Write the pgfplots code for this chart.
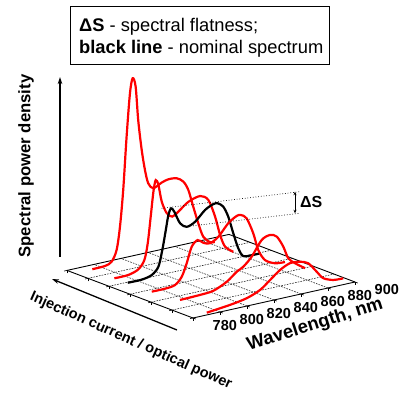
\documentclass[border=0pt]{standalone}
\usepackage{pgfplots}
\pgfplotsset{compat=1.18}
\usepackage{fontspec}
\setmainfont{Liberation Sans}
\usetikzlibrary{arrows.meta}
\tikzset{gridline/.style={line width=0.5pt, dash pattern=on 1.6pt off 1.2pt}}
\begin{document}
\begin{tikzpicture}
\begin{axis}[
  x={(1.35pt,0.30pt)}, y={(-21pt,7.93pt)}, z={(0pt,2pt)},
  xmin=780, xmax=900, ymin=0, ymax=6, zmin=0, zmax=100,
  axis lines=left,
  axis line style={-, line width=0.9pt},
  z axis line style={draw=none},
  xtick={780,800,...,900},
  ytick={0,1,...,6}, yticklabels={},
  ztick=\empty,
  tick style={black, line width=0.6pt},
  tick align=outside,
  major tick length=3pt,
  xticklabel style={font=\bfseries\fontsize{14.5}{14.5}\selectfont, anchor=center, xshift=29pt, yshift=-6pt},
  /pgf/number format/assume math mode=true,
  /pgf/number format/1000 sep={},
  clip=false,
]
\coordinate (O) at (axis cs:780,0,0);
\pgfplotsinvokeforeach{800,820,840,860,880}{\draw[gridline] (axis cs:#1,0,0) -- (axis cs:#1,6,0);}
\pgfplotsinvokeforeach{1,2,3,4,5}{\draw[gridline] (axis cs:780,#1,0) -- (axis cs:900,#1,0);}
\draw[line width=0.9pt] (axis cs:780,6,0) -- (axis cs:900,6,0) -- (axis cs:900,0,0);

% S1 (highest current, back)
\addplot3[red, line width=2.2pt, smooth] coordinates {
(793.3,5.65,0) (802.7,5.65,0.2) (807.6,5.65,1.6) (811.3,5.65,6.9) (813.8,5.65,18.2) (816.2,5.65,36.2) (818.7,5.65,62.4) (821.2,5.65,83.8) (823.2,5.65,91) (825.4,5.65,86.5) (827.3,5.65,69.5) (829.9,5.65,54.1) (832.3,5.65,43.8) (834.7,5.65,36.8) (838.4,5.65,33.7) (844.7,5.65,35.6) (849.6,5.65,36.5) (855.8,5.65,36.1) (860.7,5.65,33.7) (864.4,5.65,29) (868.1,5.65,20) (871.8,5.65,11.2) (875.5,5.65,3.9) (880.4,5.65,0.5) (884,5.65,0)};
% S2
\addplot3[red, line width=2.2pt, smooth] coordinates {
(792.4,4.54,0) (802.7,4.54,0.1) (810.1,4.54,1.8) (814.6,4.54,5.8) (817.1,4.54,13.8) (819.3,4.54,26.8) (821.3,4.54,38.9) (823,4.54,44.5) (825,4.54,41.8) (827.5,4.54,33) (831.2,4.54,26.7) (835.3,4.54,24.4) (839.8,4.54,26.2) (847.2,4.54,30) (855.9,4.54,31.6) (862,4.54,28.7) (867,4.54,19.6) (870.7,4.54,9.9) (874.4,4.54,3.5) (880.5,4.54,0)};
% S3 nominal (black)
\addplot3[black, line width=2.2pt, smooth] coordinates {
(793.1,3.95,0) (803.5,3.95,0) (810.9,3.95,1.2) (815.8,3.95,4.6) (818.7,3.95,12.5) (821.3,3.95,22.1) (823.2,3.95,29.3) (825.2,3.95,32.4) (827.6,3.95,30.3) (831.9,3.95,23.9) (836.8,3.95,21.4) (843,3.95,23) (850.4,3.95,27.8) (856.5,3.95,29.8) (859.8,3.95,29.7) (863.9,3.95,27.4) (867.6,3.95,21.8) (871.3,3.95,13) (875,3.95,4.9) (878.7,3.95,0.5) (885,3.95,0) (891,3.95,0)};
% S4
\addplot3[red, line width=2.2pt, smooth] coordinates {
(793.3,2.82,0) (803.1,2.82,0) (810.5,2.82,0.7) (815.5,2.82,4.1) (819.2,2.82,10.3) (822.9,2.82,18) (827.3,2.82,20.7) (831.5,2.82,18.7) (836.4,2.82,17.7) (842.6,2.82,20) (850,2.82,25.7) (856.2,2.82,28.4) (859.4,2.82,28.4) (863.6,2.82,26.1) (868.5,2.82,17.9) (872.2,2.82,9) (877.2,2.82,3.2) (884.6,2.82,0.5) (892,2.82,0)};
% S5
\addplot3[red, line width=2.2pt, smooth] coordinates {
(796.2,1.66,0) (811,1.66,0.3) (820.9,1.66,0.9) (830.8,1.66,3.9) (838.2,1.66,7.8) (843.1,1.66,9.6) (849.3,1.66,13.7) (856.7,1.66,20.9) (862.9,1.66,22.5) (867.9,1.66,20.9) (872.7,1.66,15.2) (876.4,1.66,8.8) (881.4,1.66,5.6) (888.8,1.66,2)};
% S6 (lowest current, front)
\addplot3[red, line width=2.2pt, smooth] coordinates {
(793,0.18,0) (810.2,0.18,1.3) (822.6,0.18,2.8) (832.4,0.18,5.4) (839.9,0.18,9.3) (847.3,0.18,13.2) (854.7,0.18,15.5) (862.1,0.18,15.1) (868.2,0.18,13.4) (874.4,0.18,8.3) (879.3,0.18,4.3) (886.7,0.18,2.3) (894.1,0.18,2)};
\end{axis}
\begin{scope}[shift={(O)}, x=1pt, y=-1pt, shift={(-193,-318)}]
 \draw[line width=0.8pt] (70.7,6.7) rectangle (329.3,64);
 \node[anchor=base west, inner sep=0, font=\fontsize{18.3}{20}\selectfont] at (79,31.5) {\textbf{ΔS} - spectral flatness;};
 \node[anchor=base west, inner sep=0, font=\fontsize{18.3}{20}\selectfont] at (79,53.5) {\textbf{black line} - nominal spectrum};
 \node[rotate=90, anchor=base, inner sep=0, font=\bfseries\fontsize{16.7}{18}\selectfont] at (30.5,166) {Spectral power density};
 \draw[line width=1.2pt, -{Stealth[length=7pt,width=4.5pt]}] (60,257) -- (60,77);
 \draw[line width=1.3pt, -{Stealth[length=7pt,width=4.5pt]}] (177,330) -- (52,279);
 \node[rotate=-24, inner sep=0, font=\bfseries\fontsize{14.5}{15}\selectfont] at (131,341) {Injection current / optical power};
 \node[rotate=17.5, anchor=base, inner sep=0, font=\bfseries\fontsize{18.5}{19}\selectfont] at (316.5,329.5) {Wavelength, nm};
 \draw[dotted, line width=0.7pt] (161.7,208.3) -- (300,191.7);
 \draw[dotted, line width=0.7pt] (185,226.7) -- (300,213.3);
 \draw[line width=0.9pt, {Stealth[length=3.5pt,width=3pt]}-{Stealth[length=3.5pt,width=3pt]}] (295,191.7) -- (295,213.3);
 \node[anchor=west, inner sep=0, font=\bfseries\fontsize{16}{16}\selectfont] at (300,202) {ΔS};
 \pgfresetboundingbox
 \path[use as bounding box] (0,0) rectangle (407,398);
\end{scope}
\end{tikzpicture}
\end{document}
